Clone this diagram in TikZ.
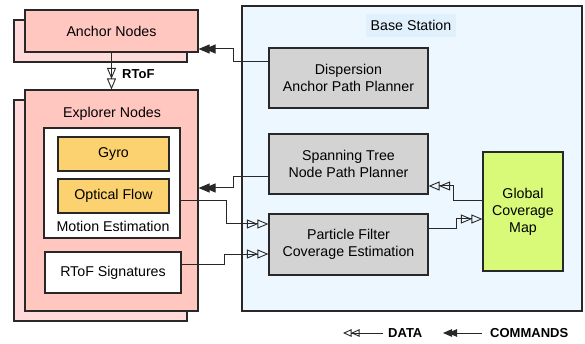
\documentclass[tikz,border=0pt]{standalone}
\usepackage{fontspec}
\setmainfont{Liberation Sans}
\usetikzlibrary{arrows.meta}
\definecolor{pinkfront}{RGB}{255,199,192}
\definecolor{pinkback}{RGB}{255,218,216}
\definecolor{sensor}{RGB}{252,209,112}
\definecolor{module}{RGB}{211,211,211}
\definecolor{mapgreen}{RGB}{216,250,120}
\definecolor{basebg}{RGB}{237,247,255}
\definecolor{baselbl}{RGB}{224,241,253}
\definecolor{edge}{RGB}{40,40,40}
\tikzset{
  box/.style={draw=edge, line width=1.1pt, rectangle, inner sep=0pt, align=center,
    font=\fontsize{14.2}{17}\selectfont},
  nodebox/.style={box, fill=pinkfront, minimum width=173pt},
  shadowbox/.style={box, fill=pinkback, minimum width=173pt},
  sensorbox/.style={box, fill=sensor, minimum width=111pt, minimum height=34pt},
  modbox/.style={box, fill=module, minimum width=159pt},
  plain/.style={inner sep=0pt, font=\fontsize{14.2}{17}\selectfont},
  boldlbl/.style={inner sep=0pt, font=\fontsize{13}{15}\selectfont\bfseries},
  opentip/.tip={Triangle[open, length=11pt, width=9pt, line width=0.9pt]},
  filltip/.tip={Triangle[length=11pt, width=9pt]},
  opentipsmall/.tip={Triangle[open, length=8.5pt, width=7.5pt, line width=0.9pt]},
  filltipsmall/.tip={Triangle[length=9pt, width=7.5pt]},
  data/.style={draw=edge, line width=1pt, -{opentip[sep=-0.5pt]opentip}},
  cmd/.style={draw=edge, line width=1pt, -{filltip[sep=-5pt]filltip}},
  datakey/.style={draw=edge, line width=1pt, -{opentipsmall[sep=-0.5pt]opentipsmall}},
  cmdkey/.style={draw=edge, line width=1pt, -{filltipsmall[sep=-4pt]filltipsmall}},
}
\begin{document}
\begin{tikzpicture}[x=1pt, y=-1pt]
\useasboundingbox (0,0) rectangle (585,344);
\fill[white] (0,0) rectangle (585,344);

% base station
\node[box, fill=basebg, minimum width=340pt, minimum height=305pt] (base) at (412,158.5) {};
\node[plain, fill=baselbl, inner xsep=5pt, inner ysep=6pt] (baselabel) at (411,25.5) {Base Station};

% anchor nodes (stacked)
\node[shadowbox, minimum height=42pt] (anchback) at (100.5,41) {};
\node[nodebox, minimum height=42pt] (anch) at (111.5,31) {Anchor Nodes};

% explorer nodes (stacked)
\node[shadowbox, minimum height=221pt] (explback) at (100.5,210.5) {};
\node[nodebox, minimum height=221pt] (expl) at (111.5,200.5) {};
\node[plain] (expllabel) at (112,114) {Explorer Nodes};

% motion estimation group
\node[box, fill=white, minimum width=136pt, minimum height=110pt] (mot) at (112,183) {};
\node[sensorbox] (gyro) at (113.5,154) {Gyro};
\node[sensorbox] (flow) at (113.5,196) {Optical Flow};
\node[plain] (motlabel) at (113,226) {Motion Estimation};

% RToF signatures
\node[box, fill=white, minimum width=136pt, minimum height=41pt] (sig) at (113,272.5) {RToF Signatures};

% base station modules
\node[modbox, minimum height=60pt] (disp) at (348.5,78) {Dispersion\\Anchor Path Planner};
\node[modbox, minimum height=60pt] (span) at (348.5,164) {Spanning Tree\\Node Path Planner};
\node[modbox, minimum height=61pt] (pf) at (348.5,244.5) {Particle Filter\\Coverage Estimation};
\node[box, fill=mapgreen, minimum width=80pt, minimum height=119pt] (glob) at (523,211.5) {Global\\Coverage\\Map};

% ranging link
\draw[data] (anch.south) -- (expl.north);
\node[boldlbl, anchor=west] (rtof) at (122,74) {RToF};

% commands
\draw[cmd] ([yshift=16pt]disp.west) -- ++(-35,0) |- ([yshift=-18pt]anch.east);
\draw[cmd] ([yshift=-13pt]span.west) -- ++(-35,0) |- ([yshift=12.5pt]expl.east);

% data
\draw[data] ([yshift=-18pt]mot.east) -- ++(46,0) |- ([yshift=20.5pt]pf.west);
\draw[data] ([yshift=8.5pt]sig.east) -- ++(43,0) |- ([yshift=-9.5pt]pf.west);
\draw[data] ([yshift=15.5pt]pf.east) -- ++(28,0) |- ([yshift=-7.5pt]glob.west);
\draw[data] ([yshift=10.5pt]glob.west) -- ++(-29,0) |- ([yshift=-22pt]span.east);

% legend
\coordinate (dataA) at (383,333);
\coordinate (dataB) at (343,333);
\coordinate (cmdA) at (482,333);
\coordinate (cmdB) at (443,333);
\draw[datakey] (dataA) -- (dataB);
\node[boldlbl, anchor=west] (datalbl) at (388,333) {DATA};
\draw[cmdkey] (cmdA) -- (cmdB);
\node[boldlbl, anchor=west] (cmdlbl) at (490,333) {COMMANDS};
\end{tikzpicture}
\end{document}
